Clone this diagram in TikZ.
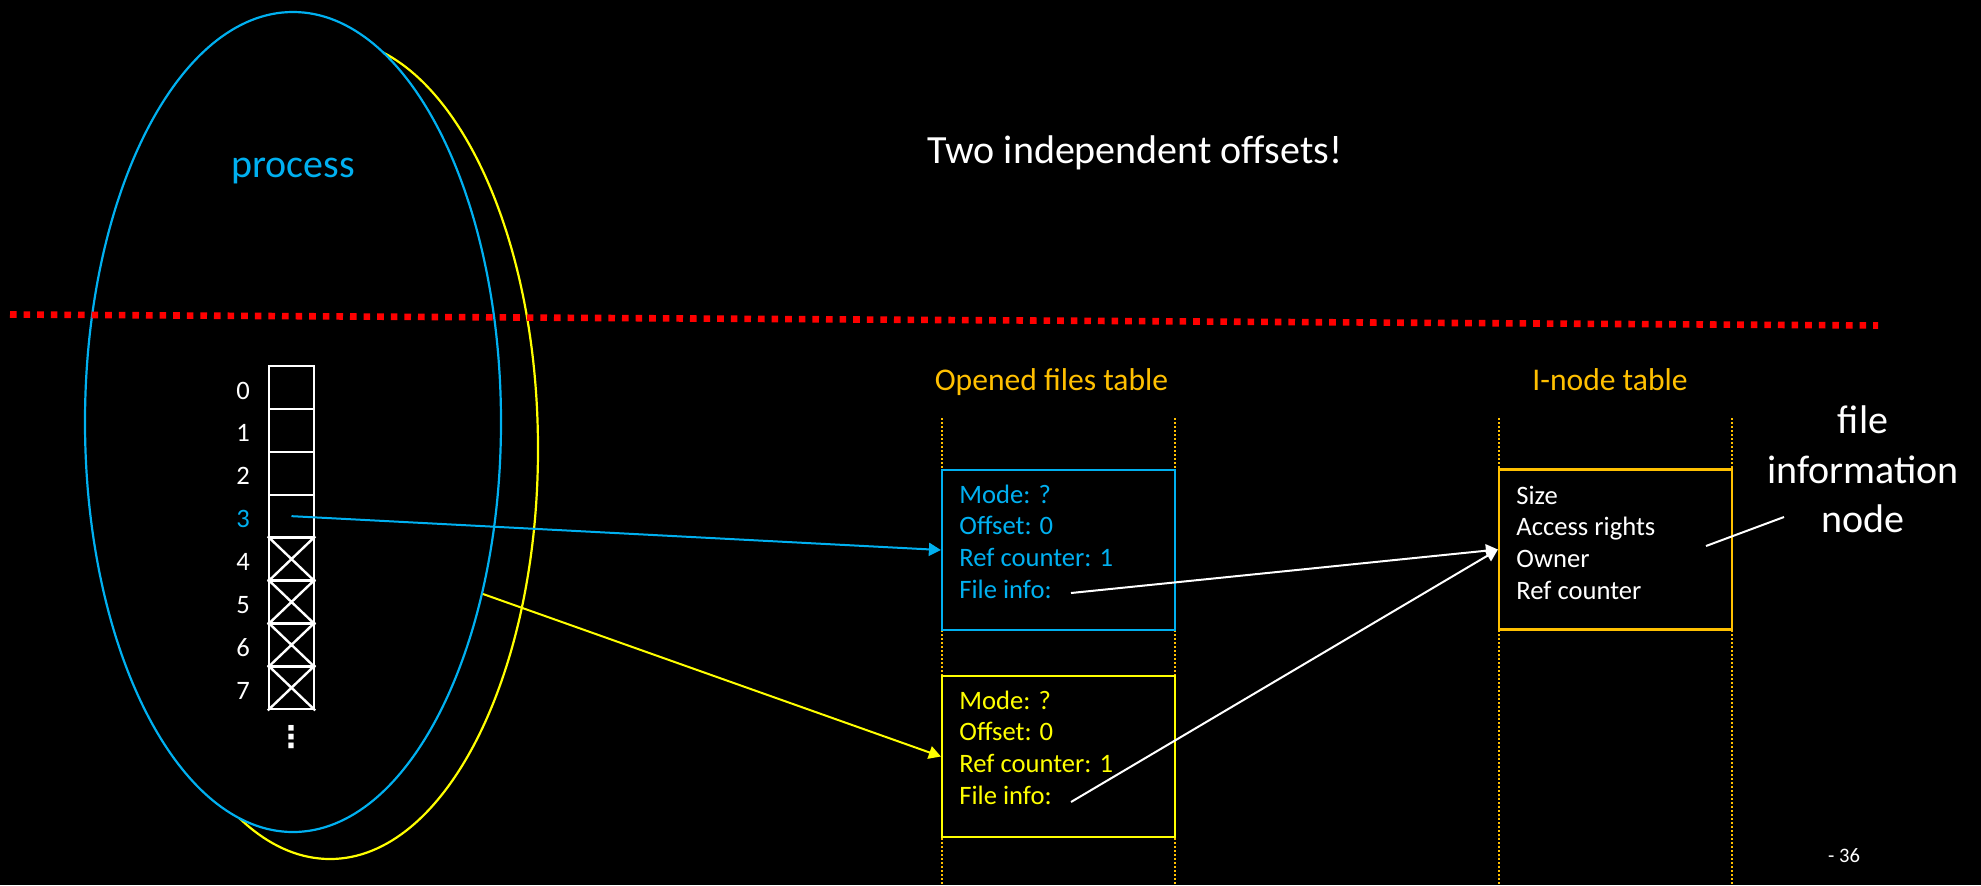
\documentclass[tikz,border=0pt]{standalone}
\usepackage{fontspec}
\setmainfont{Carlito}
\newfontfamily\symfont{DejaVu Sans}
\usetikzlibrary{arrows.meta,calc}
\definecolor{procblue}{HTML}{00B0F0}
\definecolor{procyellow}{HTML}{FFFF00}
\definecolor{tableorange}{HTML}{FFC000}
\definecolor{sepred}{HTML}{FF0000}

\begin{document}
\begin{tikzpicture}[x=0.5pt,y=-0.5pt,
  every node/.style={font=\fontsize{13.3}{15.9}\selectfont, inner sep=0pt},
  cell/.style={draw=white, line width=1.2pt, minimum width=22.5pt, minimum height=21.45pt},
  idx/.style={anchor=base},
  entrybox/.style={draw, fill=black, line width=1.1pt, minimum width=116.5pt, minimum height=80pt},
  entry/.style={anchor=base west},
  tabletitle/.style={text=tableorange, font=\fontsize{15.8}{19}\selectfont, anchor=base},
  guide/.style={tableorange, line width=0.9pt, dash pattern=on 1pt off 1pt},
  link/.style={line width=1pt, -{Triangle[length=6pt,width=6.5pt]}},
  big/.style={font=\fontsize{20}{24}\selectfont, anchor=base},
]
% page background
\fill[black] (0,0) rectangle (1981,885);
\useasboundingbox (0,0) rectangle (1981,885);

% the two processes (the second one peeks out behind the first)
\draw[procyellow, line width=1.1pt] (330,449) ellipse [x radius=104pt, y radius=205pt];
\draw[procblue, line width=1.1pt, fill=black] (293,422) ellipse [x radius=104pt, y radius=205pt];

% user space / kernel space separator
\draw[sepred, line width=3.3pt, dash pattern=on 3.3pt off 3.5pt] (10,314.5) -- (1878,325.5);

\node[big, text=procblue] (proc) at (293,177) {process};
\node[big, text=white] (title) at (1135,163) {Two independent offsets!};

% file descriptor table of the process
\foreach \i/\c in {0/white,1/white,2/white,3/procblue,4/white,5/white,6/white,7/white} {
  \node[cell] (c\i) at (291.5,{387.45+42.9*\i}) {};
  \node[idx, text=\c] (n\i) at (243,{399+42.9*\i}) {\i};
}
\foreach \i in {4,...,7}
  \draw[white, line width=1.2pt] (c\i.north west) -- (c\i.south east)
                                 (c\i.north east) -- (c\i.south west);
\node[text=white, font=\symfont\bfseries\fontsize{15}{15}\selectfont] (more) at (291,737) {⋮};

% kernel tables
\node[tabletitle] (oft) at (1051.5,390) {Opened files table};
\node[tabletitle] (int) at (1610,390) {I-node table};
\foreach \x in {942,1175,1499,1732}
  \draw[guide] (\x,418) -- (\x,885);

\node[entrybox, draw=procblue] (fb) at (1058.5,550) {};
\node[entrybox, draw=procyellow, minimum height=80.5pt] (fy) at (1058.5,756.5) {};
\node[entrybox, draw=tableorange] (ino) at (1615.5,549.5) {};

\foreach \t [count=\k from 0] in {Mode: ?,Offset: 0,Ref counter: 1,File info:} {
  \node[entry, text=procblue] (fbt\k) at (959,{503+31.9*\k}) {\t};
  \node[entry, text=procyellow] (fyt\k) at (959,{709+31.9*\k}) {\t};
}
\foreach \t [count=\k from 0] in {Size,Access rights,Owner,Ref counter}
  \node[entry, text=white] (inot\k) at (1516,{504+31.8*\k}) {\t};

% pointers
\coordinate (ystart) at (483,594);
\coordinate (fbfile) at (1071,593);
\coordinate (fyfile) at (1071,802);
\draw[link, procblue] (c3.center) -- (fb.west);
\draw[link, procyellow] (ystart) -- (fy.west);
\draw[link, white] (fbfile) -- (ino.west);
\draw[link, white] (fyfile) -- (ino.west);

% callout
\node[big, text=white] (lab1) at (1863,433) {file};
\node[big, text=white] (lab2) at (1863,483) {information};
\node[big, text=white] (lab3) at (1863,532) {node};
\coordinate (labtip) at (1706,546);
\coordinate (labend) at (1784,517);
\draw[white, line width=1pt] (labtip) -- (labend);

\node[text=white, font=\fontsize{10.3}{12}\selectfont, anchor=base] (pg) at (1844,862) {- 36};
\end{tikzpicture}
\end{document}
